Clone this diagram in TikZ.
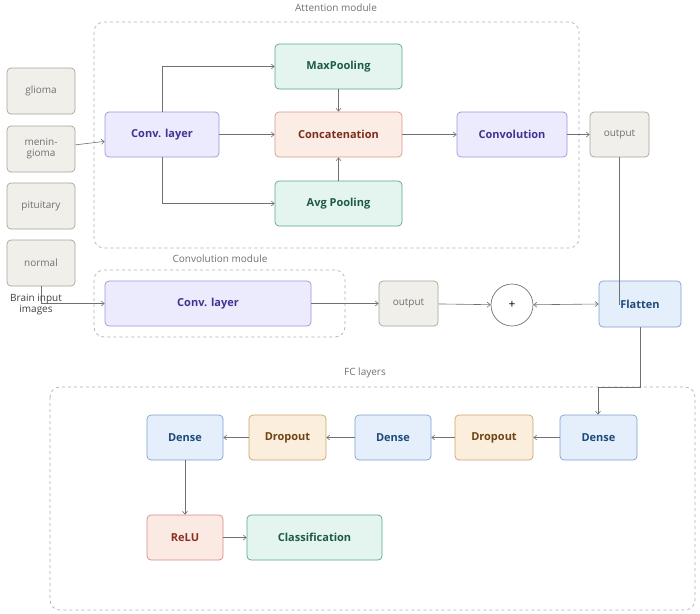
\documentclass[tikz,border=0pt]{standalone}
\usepackage{fontspec}
\setmainfont{Open Sans}
\usetikzlibrary{arrows.meta}
\definecolor{gfill}{HTML}{F1EFEA}\definecolor{gdraw}{HTML}{A9A39A}\definecolor{gtext}{HTML}{707070}
\definecolor{pfill}{HTML}{ECEBFD}\definecolor{pdraw}{HTML}{9B94DC}\definecolor{ptext}{HTML}{3C3591}
\definecolor{nfill}{HTML}{E3F5EE}\definecolor{ndraw}{HTML}{5AA787}\definecolor{ntext}{HTML}{1E5B46}
\definecolor{ofill}{HTML}{FBECE5}\definecolor{odraw}{HTML}{D79B85}\definecolor{otext}{HTML}{7A2E1A}
\definecolor{bfill}{HTML}{E4EFFB}\definecolor{bdraw}{HTML}{7AA2D0}\definecolor{btext}{HTML}{1F4A7A}
\definecolor{dfill}{HTML}{FBEEDD}\definecolor{ddraw}{HTML}{C9A46E}\definecolor{dtext}{HTML}{6E4514}
\definecolor{rfill}{HTML}{FBE9E4}\definecolor{rdraw}{HTML}{D88B7C}\definecolor{rtext}{HTML}{8C2F21}
\definecolor{lin}{HTML}{707070}\definecolor{dsh}{HTML}{B0B0B0}
\tikzset{
 box/.style={rounded corners=4pt,line width=0.7pt,inner sep=0pt,font=\fontsize{11}{13}\selectfont\bfseries},
 gbox/.style={box,fill=gfill,draw=gdraw,text=gtext,font=\fontsize{10}{11}\selectfont,align=center},
 pbox/.style={box,fill=pfill,draw=pdraw,text=ptext},
 nbox/.style={box,fill=nfill,draw=ndraw,text=ntext},
 obox/.style={box,fill=ofill,draw=odraw,text=otext},
 bbox/.style={box,fill=bfill,draw=bdraw,text=btext},
 dbox/.style={box,fill=dfill,draw=ddraw,text=dtext},
 rbox/.style={box,fill=rfill,draw=rdraw,text=rtext},
 module/.style={draw=dsh,dashed,rounded corners=10pt,line width=0.7pt},
 ttl/.style={text=gtext,font=\fontsize{10}{12}\selectfont},
 arr/.style={draw=lin,line width=0.6pt,-{Straight Barb[length=3pt,width=5pt]}},
 ln/.style={draw=lin,line width=0.6pt},
}
\newcommand{\bx}[7]{\node[#1,minimum width=#4-#3,minimum height=#6-#5] (#2) at ({(#3+#4)/2},{-(#5+#6)/2}) {#7};}
\begin{document}
\begin{tikzpicture}[x=1pt,y=1pt]
\useasboundingbox (0,0) rectangle (700,-613);
\draw[module] (94,-22) rectangle (579,-248);
\node[ttl] (t1) at (336,-8) {Attention module};
\draw[module] (94,-270) rectangle (345,-337);
\node[ttl] (t2) at (220,-259) {Convolution module};
\draw[module] (50,-387) rectangle (695,-610);
\node[ttl] (t3) at (365,-373) {FC layers};
\bx{gbox}{g1}{7}{75}{68}{114}{glioma}
\bx{gbox}{g2}{7}{75}{126}{172}{menin-\\gioma}
\bx{gbox}{g3}{7}{75}{183}{229}{pituitary}
\bx{gbox}{g4}{7}{75}{240}{286}{normal}
\bx{pbox}{cv1}{105}{219}{112}{157}{Conv. layer}
\bx{nbox}{mp}{275}{402}{44}{89}{MaxPooling}
\bx{obox}{cc}{275}{402}{112}{157}{Concatenation}
\bx{nbox}{ap}{275}{402}{181}{226}{Avg Pooling}
\bx{pbox}{cn}{457}{567}{112}{157}{Convolution}
\bx{gbox}{o1}{590}{649}{112}{157}{output}
\bx{pbox}{cv2}{105}{311}{281}{326}{Conv. layer}
\bx{gbox}{o2}{379}{438}{281}{326}{output}
\node[draw=lin,circle,line width=0.7pt,minimum size=42pt,inner sep=0pt,font=\fontsize{12}{12}\selectfont] (pl) at (512,-305) {+};
\bx{bbox}{fl}{599}{681}{281}{327}{Flatten}
\bx{bbox}{d1}{560}{637}{415}{460}{Dense}
\bx{dbox}{p1}{455}{533}{415}{460}{Dropout}
\bx{bbox}{d2}{355}{431}{415}{460}{Dense}
\bx{dbox}{p2}{249}{326}{415}{460}{Dropout}
\bx{bbox}{d3}{147}{223}{415}{460}{Dense}
\bx{rbox}{re}{147}{223}{515}{560}{ReLU}
\bx{nbox}{cl}{247}{382}{515}{560}{Classification}
\draw[arr] (g2) -- (cv1);
\draw[arr] (cv1.north) |- (mp.west);
\draw[arr] (cv1.south) |- (ap.west);
\draw[arr] (cv1) -- (cc);
\draw[arr] (mp) -- (cc);
\draw[arr] (ap) -- (cc);
\draw[arr] (cc) -- (cn);
\draw[arr] (cn) -- (o1);
\draw[arr] (g4.south) |- (cv2.west);
\node[text=black!75,font=\fontsize{10}{11}\selectfont,align=center] (bi) at (36,-305) {Brain input\\images};
\draw[arr] (cv2) -- (o2);
\draw[arr] (o2) -- (pl);
\coordinate (j) at (o1.south |- pl);
\draw[ln] (o1.south) -- (j);
\draw[draw=lin,line width=0.6pt,{Straight Barb[length=3pt,width=5pt]}-{Straight Barb[length=3pt,width=5pt]}] (pl) -- (fl.west);
\coordinate (k) at (640,-387);
\coordinate (k2) at (598,-387);
\draw[ln] (fl.south -| k) -- (k) -- (k2);
\draw[arr] (k2) -- (d1.north -| k2);
\draw[arr] (d1) -- (p1);
\draw[arr] (p1) -- (d2);
\draw[arr] (d2) -- (p2);
\draw[arr] (p2) -- (d3);
\draw[arr] (d3) -- (re);
\draw[arr] (re) -- (cl);
\end{tikzpicture}
\end{document}
